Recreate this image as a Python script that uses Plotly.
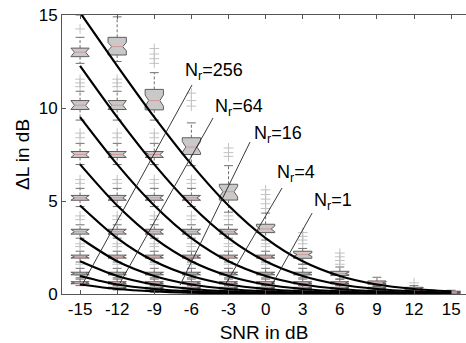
import plotly.graph_objects as go

# ---------------- data ----------------
SNR = [-15, -12, -9, -6, -3, 0, 3, 6, 9, 12, 15]
TICK_TEXT = ["-15", "-12", "-9", "-6", "-3", "0", "3", "6", "9", "12", "15"]

# thick (theory) curves, one list per curve, values at SNR grid
CURVES = [
    [15.13, 12.27, 9.51, 6.97, 4.76, 3.01, 1.76, 0.97, 0.51, 0.27, 0.14],
    [12.27, 9.51, 6.97, 4.76, 3.01, 1.76, 0.97, 0.51, 0.27, 0.14, 0.07],
    [9.51, 6.97, 4.76, 3.01, 1.76, 0.97, 0.51, 0.27, 0.14, 0.07, 0.03],
    [6.97, 4.76, 3.01, 1.76, 0.97, 0.51, 0.27, 0.14, 0.07, 0.03, 0.02],
    [4.76, 3.01, 1.76, 0.97, 0.51, 0.27, 0.14, 0.07, 0.03, 0.02, 0.01],
    [3.01, 1.76, 0.97, 0.51, 0.27, 0.14, 0.07, 0.03, 0.02, 0.01, 0.0],
    [1.76, 0.97, 0.51, 0.27, 0.14, 0.07, 0.03, 0.02, 0.01, 0.0, 0.0],
    [0.97, 0.51, 0.27, 0.14, 0.07, 0.03, 0.02, 0.01, 0.0, 0.0, 0.0],
    [0.51, 0.27, 0.14, 0.07, 0.03, 0.02, 0.01, 0.0, 0.0, 0.0, 0.0],
]

# box statistics per level (narrow-spread boxes, curves 1..8)
N_MED = [None, 13.0, 10.15, 7.5, 5.17, 3.35, 2.0, 1.1, 0.6, 0.32, 0.17, 0.09, 0.05]
N_Q3 = [None, 13.22, 10.4, 7.66, 5.3, 3.48, 2.09, 1.17, 0.66, 0.36, 0.2, 0.11, 0.06]
N_Q1 = [None, 12.76, 9.92, 7.34, 5.04, 3.22, 1.93, 1.03, 0.55, 0.28, 0.14, 0.07, 0.04]
N_WHI = [None, 13.8, 10.9, 8.1, 5.68, 3.72, 2.3, 1.38, 0.8, 0.45, 0.25, 0.14, 0.08]
N_WLO = [None, 12.4, 9.35, 6.96, 4.7, 3.0, 1.72, 0.87, 0.45, 0.22, 0.1, 0.05, 0.02]
N_OUT = [[], [14.25], [11.15, 11.35, 11.55], [8.4, 8.65], [5.95, 6.15],
         [4.0, 4.2], [2.55, 2.7], [1.6], [1.0], [], [], [], []]

# box statistics for the wide-spread boxes (top curve), one per SNR column
W_MED = [16.3, 13.3, 10.4, 7.9, 5.5, 3.5, 2.12, 1.1, 0.6, 0.3, 0.12]
W_Q3 = [16.8, 13.8, 11.0, 8.4, 5.9, 3.75, 2.3, 1.22, 0.7, 0.36, 0.15]
W_Q1 = [15.8, 12.85, 9.9, 7.5, 5.05, 3.3, 1.92, 1.0, 0.53, 0.25, 0.1]
W_NOTCH = [0.4, 0.22, 0.3, 0.3, 0.28, 0.15, 0.1, 0.07, 0.05, 0.03, 0.02]
W_WHI = [17.5, 14.9, 11.9, 9.2, 6.9, 4.35, 2.45, 1.45, 0.9, 0.45, 0.2]
W_WLO = [15.0, 12.5, 9.35, 6.9, 4.4, 2.9, 1.6, 0.8, 0.4, 0.18, 0.07]
W_OUT = [[], [], [12.4, 12.65, 12.9, 13.2], [10.1, 10.4, 10.8], [7.4, 7.6, 7.85],
         [4.6, 4.85, 5.1, 5.35, 5.6], [2.7, 2.9, 3.1, 3.3], [1.6, 1.8, 2.0, 2.2], [], [0.6], []]

# thin iso-lines with labels
NR_LABELS = ["256", "64", "16", "4", "1"]
THIN_X0 = [-5.95, -4.25, -1.26, 1.33, 3.76]
THIN_Y0 = [11.24, 9.46, 8.17, 5.7, 4.35]
THIN_X1 = [-14.84, -11.77, -6.91, -3.28, 0.5]
THIN_Y1 = [0.48, 0.59, 0.48, 0.48, 0.48]
LABEL_X = [-6.67, -4.25, -1.1, 0.76, 3.76]
LABEL_Y = [11.94, 10.05, 8.55, 6.5, 4.95]

# ---------------- geometry styles ----------------
BW = 0.74     # box half width (dB)
BWI = 0.45    # notch inner half width
CW = 0.36     # cap half width

box_x, box_y = [], []
med_x, med_y = [], []
wh_x, wh_y = [], []
cap_x, cap_y = [], []
out_x, out_y = [], []


def add_box(x, q1, med, q3, nlo, nhi, wlo, whi, outs):
    box_x.extend([x - BW, x - BW, x - BWI, x - BW, x - BW, x + BW, x + BW, x + BWI,
                  x + BW, x + BW, x - BW, None])
    box_y.extend([q1, nlo, med, nhi, q3, q3, nhi, med, nlo, q1, q1, None])
    med_x.extend([x - BWI, x + BWI, None])
    med_y.extend([med, med, None])
    wh_x.extend([x, x, None, x, x, None])
    wh_y.extend([q3, whi, None, q1, wlo, None])
    cap_x.extend([x - CW, x + CW, None, x - CW, x + CW, None])
    cap_y.extend([whi, whi, None, wlo, wlo, None])
    for o in outs:
        out_x.append(x)
        out_y.append(o)


for i, s in enumerate(SNR):
    for k in range(len(CURVES)):
        j = i + k
        if k == 0:
            add_box(s, W_Q1[i], W_MED[i], W_Q3[i], W_MED[i] - W_NOTCH[i], W_MED[i] + W_NOTCH[i],
                    W_WLO[i], W_WHI[i], W_OUT[i])
        elif j < len(N_MED):
            add_box(s, N_Q1[j], N_MED[j], N_Q3[j], N_Q1[j], N_Q3[j], N_WLO[j], N_WHI[j], N_OUT[j])

fig = go.Figure()
GRAY = "#707070"
fig.add_trace(go.Scatter(x=out_x, y=out_y, mode="markers",
                         marker=dict(symbol="cross-thin", size=7, line=dict(width=1, color="#c2c2c2")),
                         hoverinfo="skip"))
fig.add_trace(go.Scatter(x=wh_x, y=wh_y, mode="lines",
                         line=dict(color=GRAY, width=1, dash="3px,2px"), hoverinfo="skip"))
fig.add_trace(go.Scatter(x=cap_x, y=cap_y, mode="lines",
                         line=dict(color=GRAY, width=1), hoverinfo="skip"))
fig.add_trace(go.Scatter(x=box_x, y=box_y, mode="lines", fill="toself", fillcolor="#cbc8c8",
                         line=dict(color="#5e5e5e", width=1), hoverinfo="skip"))
fig.add_trace(go.Scatter(x=med_x, y=med_y, mode="lines",
                         line=dict(color="#d09a9a", width=1), hoverinfo="skip"))

for c in CURVES:
    fig.add_trace(go.Scatter(x=SNR, y=c, mode="lines",
                             line=dict(color="black", width=2.2, shape="spline", smoothing=0.8),
                             hoverinfo="skip"))

for n in range(len(NR_LABELS)):
    fig.add_trace(go.Scatter(x=[THIN_X0[n], THIN_X1[n]], y=[THIN_Y0[n], THIN_Y1[n]], mode="lines",
                             line=dict(color="#222222", width=0.9), hoverinfo="skip"))
    fig.add_annotation(x=LABEL_X[n], y=LABEL_Y[n], xref="x", yref="y",
                       text="N<sub>r</sub>=" + NR_LABELS[n], showarrow=False,
                       xanchor="left", yanchor="middle",
                       font=dict(family="Liberation Sans, Arial", size=18, color="black"))

FONT = dict(family="Liberation Sans, Arial", size=17, color="black")
fig.update_layout(
    width=466, height=343,
    margin=dict(l=62, r=0, t=15, b=49),
    paper_bgcolor="white", plot_bgcolor="white",
    showlegend=False,
    font=FONT,
    xaxis=dict(range=[-16.46, 16.2], tickvals=SNR, ticktext=TICK_TEXT, ticks="inside",
               ticklen=4, tickcolor="#555", showline=True, linecolor="#555", linewidth=1,
               mirror="ticks", showgrid=False, zeroline=False, tickfont=FONT,
               title=dict(text="SNR in dB", font=dict(family="Liberation Sans, Arial", size=19),
                          standoff=10)),
    yaxis=dict(range=[0, 15], tickvals=[0, 5, 10, 15], ticks="inside", ticklen=4,
               tickcolor="#555", showline=True, linecolor="#555", linewidth=1,
               showgrid=False, zeroline=False, tickfont=FONT,
               title=dict(text="ΔL in dB", font=dict(family="Liberation Sans, Arial", size=19),
                          standoff=4)),
)

fig.write_html("out.html")
